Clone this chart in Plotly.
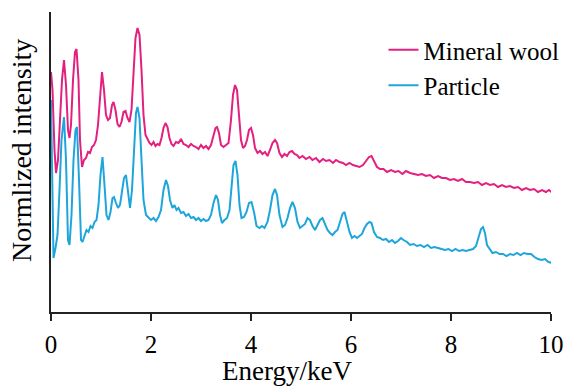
import plotly.graph_objects as go

# Mineral wool spectrum (energy in keV, normalized intensity in arbitrary units)
wool_energy = [0.00, 0.03, 0.07, 0.10, 0.14, 0.18, 0.22, 0.26, 0.30, 0.34, 0.37, 0.40, 0.44, 0.48,
               0.51, 0.55, 0.58, 0.62, 0.66, 0.70, 0.74, 0.78, 0.82, 0.86, 0.90, 0.94, 0.98, 1.02,
               1.06, 1.10, 1.14, 1.18, 1.22, 1.25, 1.29, 1.33, 1.37, 1.41, 1.45, 1.49, 1.53, 1.57,
               1.61, 1.65, 1.69, 1.73, 1.77, 1.81, 1.85, 1.89, 1.93, 1.97, 2.01, 2.05, 2.09, 2.13,
               2.17, 2.21, 2.25, 2.29, 2.33, 2.37, 2.41, 2.45, 2.50, 2.55, 2.60, 2.65, 2.70, 2.75,
               2.80, 2.85, 2.90, 2.95, 3.00, 3.05, 3.10, 3.15, 3.20, 3.25, 3.29, 3.32, 3.36, 3.40,
               3.45, 3.50, 3.55, 3.60, 3.64, 3.68, 3.72, 3.76, 3.80, 3.84, 3.88, 3.92, 3.96, 4.00,
               4.04, 4.08, 4.13, 4.18, 4.23, 4.28, 4.33, 4.38, 4.43, 4.48, 4.52, 4.57, 4.62, 4.67,
               4.72, 4.77, 4.82, 4.87, 4.92, 4.97, 5.03, 5.10, 5.17, 5.23, 5.30, 5.37, 5.44, 5.50,
               5.57, 5.64, 5.70, 5.77, 5.84, 5.90, 5.97, 6.04, 6.10, 6.17, 6.24, 6.30, 6.36, 6.41,
               6.46, 6.52, 6.58, 6.65, 6.72, 6.80, 6.88, 6.95, 7.03, 7.10, 7.18, 7.26, 7.34, 7.42,
               7.50, 7.58, 7.66, 7.74, 7.82, 7.90, 7.98, 8.06, 8.14, 8.22, 8.30, 8.38, 8.46, 8.54,
               8.62, 8.70, 8.78, 8.86, 8.94, 9.02, 9.10, 9.18, 9.26, 9.34, 9.42, 9.50, 9.58, 9.66,
               9.74, 9.82, 9.90, 9.96, 10.03]
wool_intensity = [240, 222, 162, 139, 152, 192, 232, 252, 227, 182, 174, 187, 232, 260,
                  263, 232, 172, 145, 152, 154, 160, 159, 165, 167, 172, 187, 217, 240,
                  222, 197, 192, 194, 207, 210, 202, 188, 185, 190, 200, 201, 194, 190,
                  202, 242, 274, 284, 277, 242, 197, 177, 172, 169, 167, 170, 166, 168,
                  167, 174, 184, 189, 185, 174, 168, 166, 170, 169, 173, 168, 167, 165,
                  168, 166, 165, 163, 167, 164, 166, 163, 167, 176, 184, 185, 179, 167,
                  165, 167, 169, 192, 217, 227, 222, 197, 172, 164, 166, 172, 182, 184,
                  177, 164, 159, 161, 158, 160, 156, 162, 169, 172, 169, 159, 155, 158,
                  156, 160, 161, 158, 157, 154, 156, 153, 155, 152, 154, 150, 153, 151,
                  152, 149, 152, 150, 149, 147, 149, 147, 146, 145, 147, 151, 155, 156,
                  151, 145, 143, 143, 140, 142, 140, 141, 138, 141, 139, 138, 137, 138,
                  136, 137, 134, 136, 134, 134, 132, 133, 131, 133, 130, 130, 129, 130,
                  127, 129, 127, 128, 125, 127, 125, 126, 124, 125, 122, 124, 122, 123,
                  120, 122, 120, 122, 119]

# Particle spectrum
particle_energy = [0.00, 0.02, 0.05, 0.09, 0.13, 0.17, 0.21, 0.26, 0.30, 0.34, 0.37, 0.41, 0.45,
                   0.49, 0.52, 0.56, 0.60, 0.63, 0.67, 0.71, 0.75, 0.79, 0.83, 0.87, 0.91, 0.95,
                   0.99, 1.03, 1.07, 1.11, 1.15, 1.19, 1.23, 1.26, 1.30, 1.34, 1.38, 1.42, 1.46,
                   1.50, 1.54, 1.58, 1.62, 1.66, 1.70, 1.73, 1.77, 1.81, 1.85, 1.90, 1.95, 2.00,
                   2.05, 2.10, 2.15, 2.20, 2.25, 2.30, 2.34, 2.38, 2.43, 2.47, 2.51, 2.55, 2.60,
                   2.65, 2.70, 2.75, 2.80, 2.85, 2.90, 2.95, 3.00, 3.05, 3.10, 3.15, 3.20, 3.25,
                   3.30, 3.34, 3.38, 3.42, 3.47, 3.52, 3.57, 3.61, 3.65, 3.69, 3.73, 3.77, 3.81,
                   3.86, 3.91, 3.96, 4.01, 4.06, 4.11, 4.17, 4.22, 4.27, 4.33, 4.38, 4.43, 4.48,
                   4.52, 4.57, 4.63, 4.68, 4.73, 4.78, 4.83, 4.88, 4.93, 4.98, 5.03, 5.08, 5.13,
                   5.18, 5.23, 5.28, 5.33, 5.38, 5.43, 5.48, 5.53, 5.58, 5.63, 5.68, 5.73, 5.78,
                   5.83, 5.87, 5.92, 5.97, 6.02, 6.07, 6.12, 6.17, 6.22, 6.27, 6.32, 6.37, 6.41,
                   6.46, 6.52, 6.58, 6.64, 6.70, 6.76, 6.82, 6.88, 6.94, 7.00, 7.05, 7.12, 7.18,
                   7.25, 7.32, 7.39, 7.46, 7.53, 7.60, 7.67, 7.74, 7.81, 7.88, 7.95, 8.02, 8.09,
                   8.16, 8.23, 8.30, 8.37, 8.44, 8.50, 8.55, 8.60, 8.64, 8.68, 8.72, 8.77, 8.83,
                   8.90, 8.97, 9.04, 9.11, 9.18, 9.25, 9.32, 9.39, 9.46, 9.53, 9.60, 9.67, 9.74,
                   9.81, 9.88, 9.95, 10.03]
particle_intensity = [212, 162, 54, 64, 77, 122, 172, 195, 152, 72, 67, 97, 152,
                      182, 185, 132, 72, 70, 77, 82, 80, 86, 84, 90, 92, 107,
                      137, 155, 127, 97, 92, 100, 114, 115, 109, 104, 107, 120, 134,
                      137, 120, 104, 122, 167, 199, 205, 194, 152, 112, 97, 94, 92,
                      94, 91, 95, 102, 122, 132, 126, 112, 104, 107, 102, 104, 99,
                      100, 96, 98, 94, 95, 92, 94, 91, 93, 91, 92, 97, 109,
                      117, 112, 97, 89, 92, 94, 102, 127, 147, 151, 137, 107, 94,
                      95, 100, 109, 110, 100, 86, 84, 86, 84, 90, 102, 117, 123,
                      117, 97, 85, 87, 94, 104, 110, 104, 90, 84, 86, 88, 94,
                      92, 86, 82, 87, 92, 94, 87, 82, 79, 77, 80, 82, 90,
                      98, 100, 90, 80, 74, 76, 74, 76, 78, 84, 88, 90, 89,
                      80, 75, 74, 72, 73, 70, 72, 69, 71, 74, 72, 70, 67,
                      68, 66, 67, 65, 67, 64, 65, 64, 63, 62, 63, 61, 63,
                      61, 62, 61, 62, 63, 66, 74, 83, 85, 79, 67, 63, 59,
                      60, 58, 58, 56, 58, 57, 59, 57, 59, 58, 58, 55, 53,
                      52, 53, 50, 49]

x_ticks = [0, 2, 4, 6, 8, 10]
series_names = ["Mineral wool", "Particle"]
series_colors = ["#E3207F", "#1EA5DC"]

FONT = "Liberation Serif"
FONT2 = "Times New Roman, Liberation Serif, serif"

fig = go.Figure()
fig.add_trace(go.Scatter(x=wool_energy, y=wool_intensity, mode="lines", name=series_names[0],
                         line=dict(color=series_colors[0], width=2)))
fig.add_trace(go.Scatter(x=particle_energy, y=particle_intensity, mode="lines", name=series_names[1],
                         line=dict(color=series_colors[1], width=2)))

fig.update_layout(
    width=568, height=387,
    margin=dict(l=51, r=17, t=12, b=75, autoexpand=False),
    paper_bgcolor="white", plot_bgcolor="white",
    font=dict(family=FONT2, size=25, color="black"),
    showlegend=True,
    legend=dict(x=0.665, y=0.95, xanchor="left", yanchor="top",
                bgcolor="rgba(0,0,0,0)", font=dict(family=FONT2, size=25, color="black"),
                itemwidth=30, tracegroupgap=0),
    xaxis=dict(range=[0, 10], tickvals=x_ticks, ticktext=[str(t) for t in x_ticks],
               showline=True, linecolor="#222", linewidth=1.5, ticks="outside",
               ticklen=7, tickwidth=1.5, tickcolor="#222", showgrid=False, zeroline=False,
               automargin=False, ticklabelstandoff=2,
               tickfont=dict(family=FONT2, size=25, color="black")),
    yaxis=dict(range=[0, 300], showline=True, linecolor="#222", linewidth=1.5,
               showticklabels=False, ticks="", showgrid=False, zeroline=False,
               automargin=False),
    annotations=[
        dict(text="Normlized intensity", xref="paper", yref="paper", x=-0.058, y=0.537,
             xanchor="center", yanchor="middle", textangle=-90, showarrow=False,
             font=dict(family=FONT, size=28, color="black")),
        dict(text="Energy/keV", xref="paper", yref="paper", x=0.472, y=-0.195,
             xanchor="center", yanchor="middle", showarrow=False,
             font=dict(family=FONT, size=27, color="black")),
    ],
)

fig.write_html("out.html")
